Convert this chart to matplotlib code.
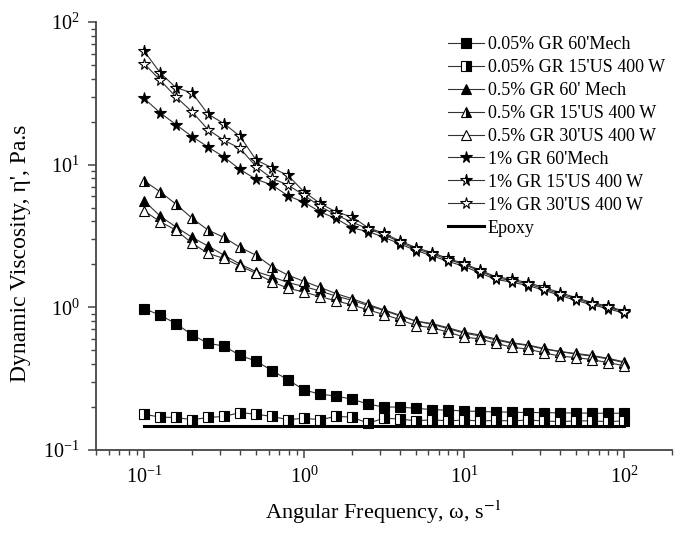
import numpy as np
import matplotlib
matplotlib.use('Agg')
import matplotlib.pyplot as plt

plt.rcParams['font.family'] = ['Liberation Serif', 'DejaVu Serif']
plt.rcParams['mathtext.fontset'] = 'stix'

freq = [0.1, 0.126, 0.158, 0.2, 0.251, 0.316, 0.398, 0.501, 0.631, 0.794,
        1.0, 1.26, 1.58, 2.0, 2.51, 3.16, 3.98, 5.01, 6.31, 7.94,
        10.0, 12.6, 15.8, 20.0, 25.1, 31.6, 39.8, 50.1, 63.1, 79.4, 100.0]

gr005_mech = [0.98, 0.88, 0.77, 0.64, 0.56, 0.535, 0.46, 0.42, 0.36, 0.31,
              0.264, 0.246, 0.239, 0.227, 0.21, 0.20, 0.20, 0.196, 0.192, 0.19,
              0.188, 0.186, 0.185, 0.184, 0.183, 0.183, 0.182, 0.182, 0.181, 0.181, 0.181]
gr005_us15 = [0.178, 0.170, 0.169, 0.163, 0.169, 0.172, 0.183, 0.178, 0.172, 0.163,
              0.167, 0.163, 0.172, 0.170, 0.154, 0.167, 0.165, 0.160, 0.163, 0.160,
              0.162, 0.160, 0.161, 0.160, 0.162, 0.160, 0.158, 0.160, 0.160, 0.158, 0.160]
gr05_mech = [5.58, 4.36, 3.66, 3.09, 2.69, 2.32, 2.01, 1.78, 1.64, 1.49,
             1.40, 1.30, 1.20, 1.12, 1.03, 0.95, 0.87, 0.80, 0.76, 0.71,
             0.66, 0.63, 0.59, 0.56, 0.54, 0.51, 0.49, 0.47, 0.455, 0.435, 0.41]
gr05_us15 = [7.7, 6.45, 5.29, 4.2, 3.48, 3.09, 2.63, 2.32, 1.92, 1.68,
             1.52, 1.38, 1.25, 1.15, 1.05, 0.96, 0.88, 0.80, 0.77, 0.72,
             0.67, 0.64, 0.60, 0.565, 0.545, 0.515, 0.49, 0.475, 0.46, 0.44, 0.415]
gr05_us30 = [4.75, 3.98, 3.48, 2.81, 2.39, 2.20, 1.95, 1.73, 1.51, 1.36,
             1.28, 1.19, 1.11, 1.04, 0.96, 0.89, 0.82, 0.745, 0.72, 0.67,
             0.62, 0.60, 0.56, 0.525, 0.51, 0.48, 0.455, 0.445, 0.43, 0.41, 0.39]
gr1_mech = [29.1, 23.1, 19.1, 15.7, 13.3, 11.3, 9.25, 7.9, 7.2, 6.05,
            5.45, 4.67, 4.2, 3.6, 3.4, 3.1, 2.78, 2.5, 2.3, 2.1,
            1.94, 1.74, 1.57, 1.5, 1.42, 1.32, 1.21, 1.12, 1.04, 0.98, 0.91]
gr1_us15 = [62.6, 44.0, 34.7, 31.8, 22.6, 19.4, 15.8, 10.8, 9.5, 8.4,
            6.45, 5.35, 4.67, 4.3, 3.62, 3.3, 2.92, 2.62, 2.42, 2.2,
            2.03, 1.82, 1.64, 1.57, 1.49, 1.38, 1.27, 1.17, 1.08, 1.02, 0.94]
gr1_us30 = [51.1, 39.1, 29.9, 23.4, 17.6, 14.8, 13.0, 9.7, 8.0, 7.2,
            6.1, 5.1, 4.45, 3.95, 3.55, 3.24, 2.86, 2.57, 2.37, 2.16,
            2.0, 1.79, 1.61, 1.54, 1.46, 1.35, 1.24, 1.15, 1.06, 1.0, 0.93]
epoxy = [0.147, 0.147, 0.147, 0.147, 0.147, 0.147, 0.147, 0.147, 0.147, 0.147,
         0.147, 0.147, 0.147, 0.147, 0.147, 0.147, 0.147, 0.147, 0.147, 0.147,
         0.147, 0.147, 0.147, 0.147, 0.147, 0.147, 0.147, 0.147, 0.147, 0.147, 0.147]

labels = ["0.05% GR 60'Mech", "0.05% GR 15'US 400 W", "0.5% GR 60' Mech",
          "0.5% GR 15'US 400 W", "0.5% GR 30'US 400 W", "1% GR 60'Mech",
          "1% GR 15'US 400 W", "1% GR 30'US 400 W", "Epoxy"]

fig = plt.figure(figsize=(6.81, 5.44), dpi=100)
ax = fig.add_axes([96/681, 94/544, 576/681, 428/544])

line_kw = dict(color='#333333', lw=0.8, mec='black', mew=0.8)

ax.plot(freq, gr005_mech, marker='s', ms=6.5, mfc='black', label=labels[0], **line_kw)
ax.plot(freq, gr005_us15, marker='s', ms=6.5, mfc='black', fillstyle='right',
        markerfacecoloralt='white', label=labels[1], **line_kw)
ax.plot(freq, gr05_mech, marker='^', ms=7.5, mfc='black', label=labels[2], **line_kw)
ax.plot(freq, gr05_us15, marker='^', ms=7.5, mfc='black', fillstyle='right',
        markerfacecoloralt='white', label=labels[3], **line_kw)
ax.plot(freq, gr05_us30, marker='^', ms=7.5, mfc='white', label=labels[4], **line_kw)
ax.plot(freq, gr1_mech, marker='*', ms=8.5, mfc='black', label=labels[5], **line_kw)
ax.plot(freq, gr1_us15, marker='*', ms=8.5, mfc='black', fillstyle='right',
        markerfacecoloralt='white', label=labels[6], **line_kw)
ax.plot(freq, gr1_us30, marker='*', ms=8.5, mfc='white', label=labels[7], **line_kw)
ax.plot(freq, epoxy, color='black', lw=2.2, label=labels[8])

ax.set_xscale('log')
ax.set_yscale('log')
ax.set_xlim(0.05, 200)
ax.set_ylim(0.1, 100)

for s in ['top', 'right']:
    ax.spines[s].set_visible(False)
for s in ['left', 'bottom']:
    ax.spines[s].set_linewidth(1.3)
    ax.spines[s].set_color('#444444')

ax.tick_params(which='major', direction='out', length=6, width=1.1, labelsize=14.5,
               color='#444444', pad=6)
ax.tick_params(which='minor', direction='out', length=3.5, width=1.0, color='#444444')

ax.set_xlabel("Angular Frequency, \u03c9, s$^{-1}$", fontsize=16, labelpad=8)
ax.set_ylabel("Dynamic Viscosity, \u03b7', Pa.s", fontsize=17, labelpad=4)
ax.yaxis.set_label_coords(-0.113, 0.46)

ax.legend(loc='upper left', bbox_to_anchor=(448/681, 1 - 36/544),
          bbox_transform=fig.transFigure, frameon=False, fontsize=13,
          handlelength=2.0, handletextpad=0.2, labelspacing=0.33,
          borderpad=0, borderaxespad=0)

fig.savefig('out.png', dpi=100)
